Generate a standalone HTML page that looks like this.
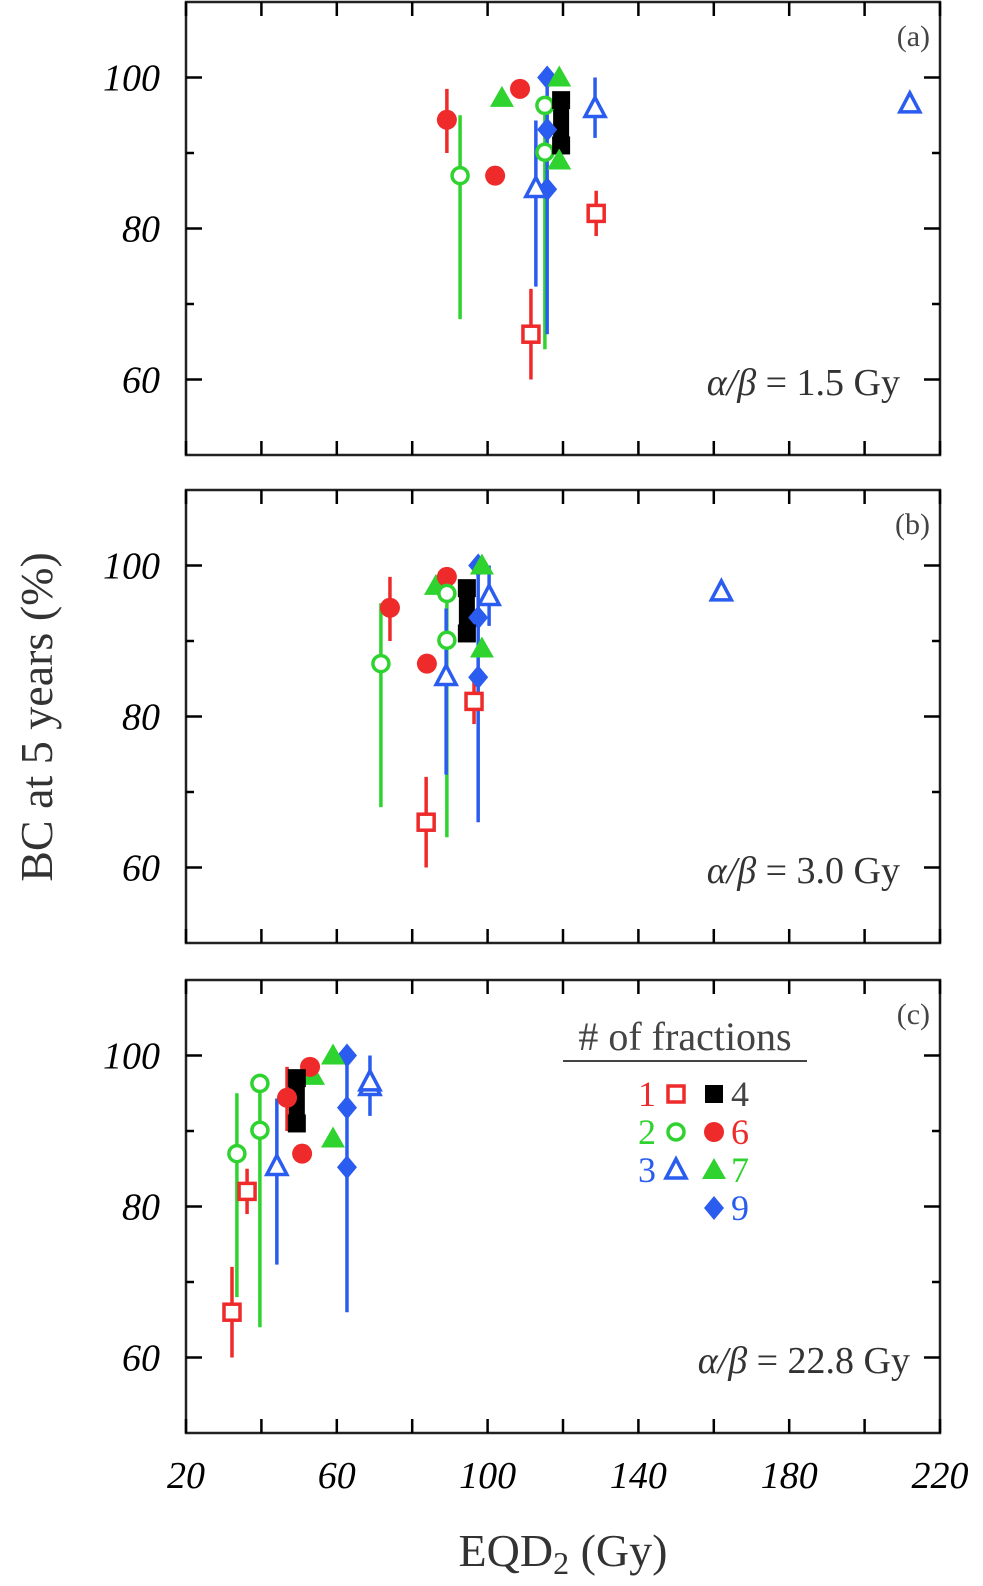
<!DOCTYPE html>
<html><head><meta charset="utf-8"><style>
html,body{margin:0;background:#fff;overflow:hidden;width:983px;height:1586px;}
svg{display:block;font-family:"Liberation Serif",serif;}
</style></head><body>
<svg id="chart" width="983" height="1586" viewBox="0 0 983 1586" xmlns="http://www.w3.org/2000/svg"></svg>
<script>
const NS='http://www.w3.org/2000/svg';
const xTicks=[20,60,100,140,180,220];
const yTicks=[60,80,100];
const panelLabels=['(a)','(b)','(c)'];
const abLabels=['= 1.5 Gy','= 3.0 Gy','= 22.8 Gy'];
const ptType=['f6','o2','f6','t7','f6','o2','o2','d9','d9','d9','t3','s4','s4','t7','t7','t3','s1','s1','t3'];
const ptY=[94.4,87,87,97.3,98.5,96.3,90.1,100,93.1,85.2,85.3,97,91,100,89,95.9,82,66,96.5];
const errLo=[90,68,null,null,null,null,64,null,null,66,72.3,90,null,null,null,92,79,60,null];
const errHi=[98.5,95,null,null,null,null,96.3,null,null,100,94.3,98,null,null,null,100,85,72,null];
const xA=[89.2,92.7,102,103.8,108.6,115.2,115.2,115.8,115.8,115.8,112.8,119.5,119.5,119,119,128.5,128.8,111.5,212];
const xB=[74.1,71.7,83.9,86.3,89.2,89.2,89.2,97.5,97.5,97.5,89,94.5,94.5,98.5,98.5,100.4,96.4,83.7,162];
const xC=[46.8,33.5,50.8,53.7,52.9,39.6,39.6,62.7,62.7,62.7,44.1,49.4,49.4,59,59,68.8,36.2,32.2,68.8];
const panels=[{top:2,bot:455,xs:xA},{top:490,bot:943,xs:xB},{top:980,bot:1433,xs:xC}];
const L=186,R=940;
const C={red:'#ee2a2a',green:'#2fd32f',blue:'#2a5cf0',black:'#000'};
const svg=document.getElementById('chart');
function mk(t,a,p){const e=document.createElementNS(NS,t);for(const k in a)e.setAttribute(k,a[k]);(p||svg).appendChild(e);return e;}
const sx=v=>L+(v-20)*(R-L)/200;
function marker(g,type,x,y){
  const s=10;
  if(type==='f6')mk('circle',{cx:x,cy:y,r:s,fill:C.red},g);
  else if(type==='o2')mk('circle',{cx:x,cy:y,r:8,fill:'#fff',stroke:C.green,'stroke-width':3.5},g);
  else if(type==='t7')mk('polygon',{points:`${x},${y-s-2} ${x-s-2},${y+s-1} ${x+s+2},${y+s-1}`,fill:C.green},g);
  else if(type==='t3')mk('polygon',{points:`${x},${y-s-1} ${x-s},${y+s-2} ${x+s},${y+s-2}`,fill:'#fff',stroke:C.blue,'stroke-width':3.5},g);
  else if(type==='d9')mk('polygon',{points:`${x},${y-s-2} ${x+s},${y} ${x},${y+s+2} ${x-s},${y}`,fill:C.blue},g);
  else if(type==='s4')mk('rect',{x:x-9,y:y-9,width:18,height:18,fill:C.black},g);
  else if(type==='s1')mk('rect',{x:x-8,y:y-8,width:16,height:16,fill:'#fff',stroke:C.red,'stroke-width':3.5},g);
}
const colOf={f6:C.red,o2:C.green,t7:C.green,t3:C.blue,d9:C.blue,s4:C.black,s1:C.red};
panels.forEach((p,pi)=>{
  const sy=v=>p.bot-(v-50)*(p.bot-p.top)/60;
  const g=mk('g',{});
  
  
  mk('rect',{x:L,y:p.top,width:R-L,height:p.bot-p.top,fill:'none',stroke:'#222','stroke-width':2.5},g);
  for(let v=20;v<=220;v+=20){const x=sx(v);
    mk('line',{x1:x,y1:p.bot,x2:x,y2:p.bot-14,stroke:'#000','stroke-width':2.5},g);
    mk('line',{x1:x,y1:p.top,x2:x,y2:p.top+14,stroke:'#000','stroke-width':2.5},g);}
  for(let v=60;v<=100;v+=10){const y=sy(v);const len=v%20===0?16:8;
    mk('line',{x1:L,y1:y,x2:L+len,y2:y,stroke:'#000','stroke-width':2.5},g);
    mk('line',{x1:R,y1:y,x2:R-len,y2:y,stroke:'#000','stroke-width':2.5},g);}
  yTicks.forEach(v=>{const t=mk('text',{x:160,y:sy(v)+13,'font-size':38,'font-style':'italic','text-anchor':'end'},g);t.textContent=v;
    });
  const pl=mk('text',{x:930,y:p.top+44,'font-size':30,'text-anchor':'end',fill:'#444'},g);pl.textContent=panelLabels[pi];
  
  const ab=mk('text',{x:pi===2?910:900,y:p.top+393,'font-size':38,'text-anchor':'end',fill:'#333'},g);
  ab.innerHTML='<tspan font-style="italic">α/β</tspan> '+abLabels[pi];
  
  ptType.forEach((t,i)=>{const x=sx(p.xs[i]);
    if(errLo[i]!==null){const e=mk('line',{x1:x,y1:sy(errLo[i]),x2:x,y2:sy(errHi[i]),stroke:colOf[t],'stroke-width':t==='s4'?16:3.5},g);
      }});
  ptType.forEach((t,i)=>{const m=mk('g',{},g);
    marker(m,t,sx(p.xs[i]),sy(ptY[i]));});
});
xTicks.forEach(v=>{const t=mk('text',{x:sx(v),y:1488,'font-size':38,'font-style':'italic','text-anchor':'middle'});t.textContent=v;
  });
const xt=mk('text',{x:563,y:1566,'font-size':46,'text-anchor':'middle',fill:'#333'});
xt.innerHTML='EQD<tspan font-size="32" dy="8">2</tspan><tspan dy="-8"> (Gy)</tspan>';

const yt=mk('text',{x:0,y:0,'font-size':46,'text-anchor':'middle',fill:'#333',transform:'translate(52,717) rotate(-90)'});
yt.textContent='BC at 5 years (%)';

const lg=mk('g',{});
const lt=mk('text',{x:685,y:1050,'font-size':40,'text-anchor':'middle',fill:'#444'},lg);lt.textContent='# of fractions';
mk('line',{x1:563,y1:1061,x2:807,y2:1061,stroke:'#444','stroke-width':2},lg);
const legRows=[[['1',C.red,'s1'],['4',C.black,'s4']],[['2',C.green,'o2'],['6',C.red,'f6']],[['3',C.blue,'t3'],['7',C.green,'t7']],[[null],['9',C.blue,'d9']]];
legRows.forEach((row,ri)=>{const y=1094+ri*38;
  if(row[0][0]){const t=mk('text',{x:647,y:y+12,'font-size':36,'text-anchor':'middle',fill:row[0][1]},lg);t.textContent=row[0][0];marker(lg,row[0][2],676,y);}
  marker(lg,row[1][2],714,y);const t2=mk('text',{x:740,y:y+12,'font-size':36,'text-anchor':'middle',fill:row[1][1]==='#000'?'#444':row[1][1]},lg);t2.textContent=row[1][0];
});
</script>
</body></html>
